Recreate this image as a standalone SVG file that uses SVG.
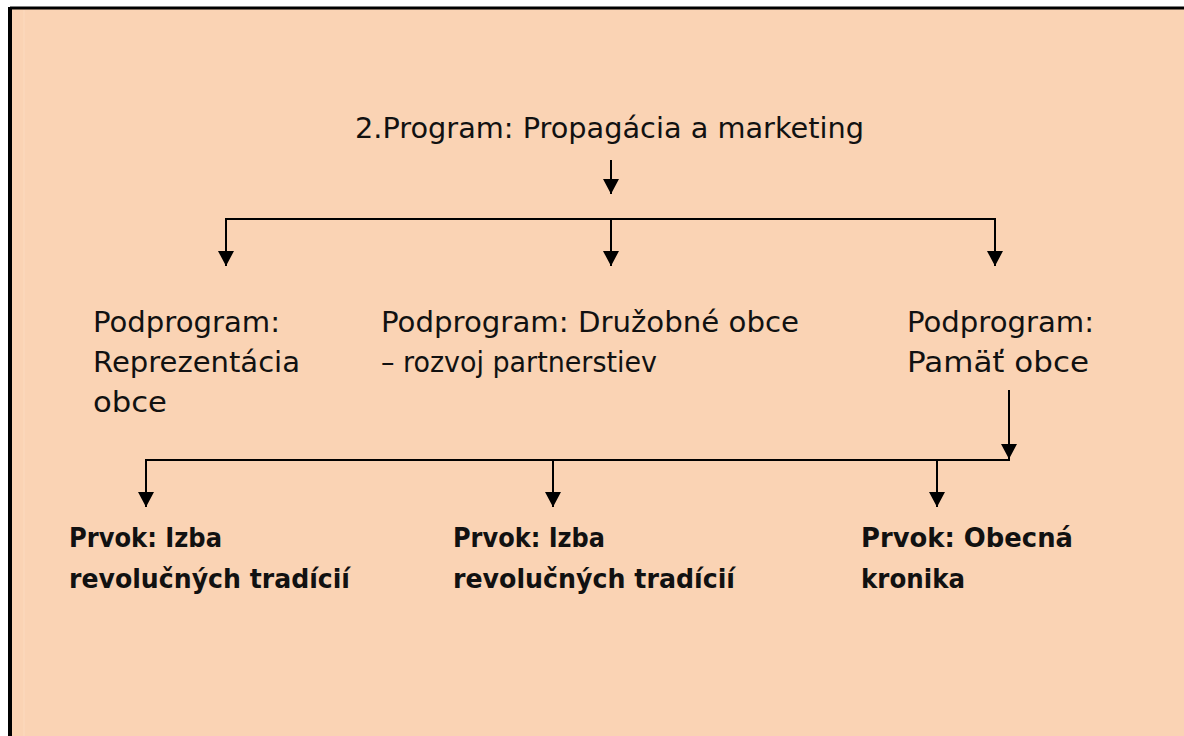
<svg xmlns="http://www.w3.org/2000/svg" width="1184" height="736" viewBox="0 0 1184 736">
  <style>
    .lbl { font-family: "DejaVu Sans", "Liberation Sans", sans-serif; font-size: 29px; fill: #111; }
    .bold { font-family: "DejaVu Sans", "Liberation Sans", sans-serif; font-size: 27px; font-weight: bold; fill: #111; }
    .wire { stroke: #000; stroke-width: 2; fill: none; }
  </style>
  <defs>
    <marker id="head" markerUnits="userSpaceOnUse" markerWidth="16" markerHeight="16" viewBox="0 0 16 16" refX="15" refY="8" orient="auto">
      <path d="M0,0 L15,8 L0,16 Z" fill="#000"/>
    </marker>
  </defs>

  <!-- page background and frame -->
  <rect x="0" y="0" width="1184" height="736" fill="#ffffff"/>
  <rect x="10" y="8" width="1174" height="728" fill="#FAD3B4"/>
  <line x1="24" y1="10" x2="24" y2="736" stroke="#FCDABF" stroke-width="1"/>
  <line x1="10" y1="8" x2="1184" y2="8" stroke="#000" stroke-width="3"/>
  <line x1="10" y1="7" x2="10" y2="736" stroke="#000" stroke-width="4"/>

  <!-- connectors -->
  <g id="connectors">
    <line class="wire" x1="611" y1="160" x2="611" y2="194" marker-end="url(#head)"/>
    <line class="wire" x1="225" y1="219" x2="996" y2="219"/>
    <line class="wire" x1="226" y1="219" x2="226" y2="266" marker-end="url(#head)"/>
    <line class="wire" x1="611" y1="219" x2="611" y2="266" marker-end="url(#head)"/>
    <line class="wire" x1="995" y1="219" x2="995" y2="266" marker-end="url(#head)"/>
    <line class="wire" x1="1009" y1="390" x2="1009" y2="459" marker-end="url(#head)"/>
    <line class="wire" x1="145" y1="460" x2="1010" y2="460"/>
    <line class="wire" x1="146" y1="460" x2="146" y2="507" marker-end="url(#head)"/>
    <line class="wire" x1="553" y1="460" x2="553" y2="507" marker-end="url(#head)"/>
    <line class="wire" x1="937" y1="460" x2="937" y2="507" marker-end="url(#head)"/>
  </g>

  <!-- top program -->
  <g id="program">
    <text class="lbl" x="355" y="138" textLength="509" lengthAdjust="spacingAndGlyphs">2.Program: Propagácia a marketing</text>
  </g>

  <!-- subprograms -->
  <g id="sub-reprezentacia">
    <text class="lbl" x="93" y="332" textLength="187" lengthAdjust="spacingAndGlyphs">Podprogram:</text>
    <text class="lbl" x="93" y="372" textLength="207" lengthAdjust="spacingAndGlyphs">Reprezentácia</text>
    <text class="lbl" x="93" y="412" textLength="74" lengthAdjust="spacingAndGlyphs">obce</text>
  </g>
  <g id="sub-druzobne">
    <text class="lbl" x="381" y="332" textLength="418" lengthAdjust="spacingAndGlyphs">Podprogram: Družobné obce</text>
    <text class="lbl" x="381" y="372" textLength="276" lengthAdjust="spacingAndGlyphs">– rozvoj partnerstiev</text>
  </g>
  <g id="sub-pamat">
    <text class="lbl" x="907" y="332" textLength="187" lengthAdjust="spacingAndGlyphs">Podprogram:</text>
    <text class="lbl" x="907" y="372" textLength="182" lengthAdjust="spacingAndGlyphs">Pamäť obce</text>
  </g>

  <!-- elements -->
  <g id="prvok-izba-1">
    <text class="bold" x="69" y="547" textLength="153" lengthAdjust="spacingAndGlyphs">Prvok: Izba</text>
    <text class="bold" x="69" y="588" textLength="281" lengthAdjust="spacingAndGlyphs">revolučných tradícií</text>
  </g>
  <g id="prvok-izba-2">
    <text class="bold" x="453" y="547" textLength="152" lengthAdjust="spacingAndGlyphs">Prvok: Izba</text>
    <text class="bold" x="453" y="588" textLength="282" lengthAdjust="spacingAndGlyphs">revolučných tradícií</text>
  </g>
  <g id="prvok-kronika">
    <text class="bold" x="861" y="547" textLength="212" lengthAdjust="spacingAndGlyphs">Prvok: Obecná</text>
    <text class="bold" x="861" y="588" textLength="104" lengthAdjust="spacingAndGlyphs">kronika</text>
  </g>
</svg>
